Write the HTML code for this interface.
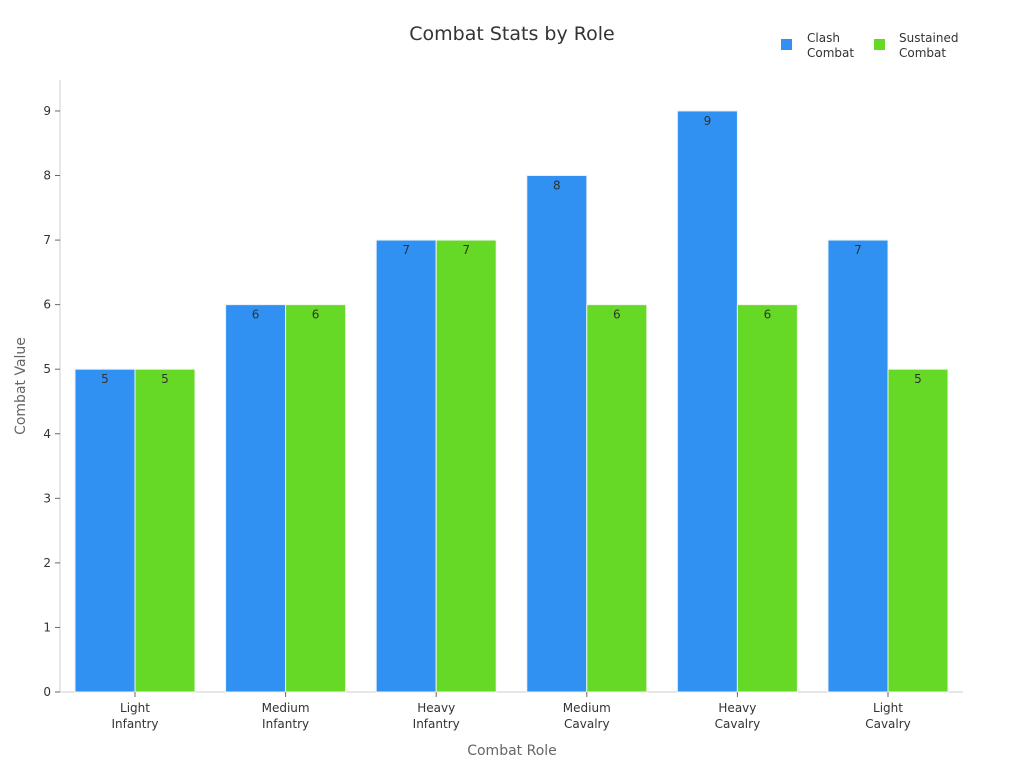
<!DOCTYPE html>
<html><head><meta charset="utf-8"><style>
html,body{margin:0;padding:0;background:#fff;}
svg{display:block;font-family:"DejaVu Sans","Liberation Sans",sans-serif;}
</style></head><body>
<svg width="1024" height="768" viewBox="0 0 1024 768" xmlns="http://www.w3.org/2000/svg">
<rect width="1024" height="768" fill="#fff"/>
<text x="512" y="40" text-anchor="middle" font-size="19" fill="#333">Combat Stats by Role</text>
<rect x="781" y="39" width="11" height="11" fill="#3091F2"/>
<text x="807" y="42" font-size="12" fill="#333">Clash</text>
<text x="807" y="57" font-size="12" fill="#333">Combat</text>
<rect x="874" y="39" width="11" height="11" fill="#66D927"/>
<text x="899" y="42" font-size="12" fill="#333">Sustained</text>
<text x="899" y="57" font-size="12" fill="#333">Combat</text>
<line x1="60" y1="80" x2="60" y2="692" stroke="#ccc" stroke-width="1"/>
<line x1="60" y1="692" x2="963" y2="692" stroke="#ccc" stroke-width="1"/>
<text transform="translate(25,386) rotate(-90)" text-anchor="middle" font-size="14" fill="#666">Combat Value</text>
<text x="512" y="755" text-anchor="middle" font-size="14" fill="#666">Combat Role</text>
<g id="auto"></g>
</svg>
<script>
(function(){
var ns="http://www.w3.org/2000/svg",g=document.getElementById("auto");
function el(t,a,txt){var e=document.createElementNS(ns,t);for(var k in a)e.setAttribute(k,a[k]);if(txt!=null)e.textContent=txt;g.appendChild(e);return e;}
function Y(v){return 692-64.56*v;}
for(var v=0;v<=9;v++){var y=Y(v);el("line",{x1:55,y1:y,x2:60,y2:y,stroke:"#666"});el("text",{x:51,y:y+4,"font-size":12,fill:"#333","text-anchor":"end"},v);}
var b=[5,6,7,8,9,7],s=[5,6,7,6,6,5];
var n1=["Light","Medium","Heavy","Medium","Heavy","Light"],n2=["Infantry","Infantry","Infantry","Cavalry","Cavalry","Cavalry"];
for(var i=0;i<6;i++){var x=75+150.6*i;
el("rect",{x:x,y:Y(b[i]),width:60,height:64.56*b[i],fill:"#3091F2",stroke:"#e8f0f8","stroke-width":1});
el("rect",{x:x+60,y:Y(s[i]),width:60,height:64.56*s[i],fill:"#66D927",stroke:"#eef8e8","stroke-width":1});
el("text",{x:x+30,y:Y(b[i])+14,"font-size":12,fill:"#333","text-anchor":"middle"},b[i]);
el("text",{x:x+90,y:Y(s[i])+14,"font-size":12,fill:"#333","text-anchor":"middle"},s[i]);
el("line",{x1:x+60,y1:692,x2:x+60,y2:697,stroke:"#666"});
el("text",{x:x+60,y:712,"font-size":12,fill:"#333","text-anchor":"middle"},n1[i]);
el("text",{x:x+60,y:728,"font-size":12,fill:"#333","text-anchor":"middle"},n2[i]);}
})();
</script>
</body></html>
